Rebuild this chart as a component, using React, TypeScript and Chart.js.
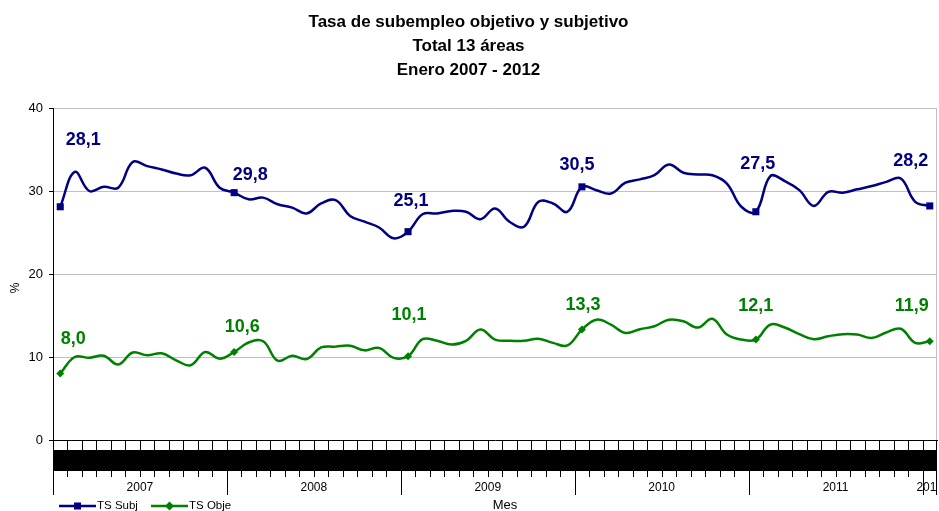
import React, { useEffect, useRef } from 'react';
import { Chart, registerables } from 'chart.js';

Chart.register(...registerables);

const FONT = '"Liberation Sans", Arial, Helvetica, sans-serif';

const titleLines = ['Tasa de subempleo objetivo y subjetivo', 'Total 13 áreas', 'Enero 2007 - 2012'];
const monthNames = ['ene', 'feb', 'mar', 'abr', 'may', 'jun', 'jul', 'ago', 'sep', 'oct', 'nov', 'dic'];
const years = ['2007', '2008', '2009', '2010', '2011', '2012'];
const seriesNames = ['TS Subj', 'TS Obje'];
const axisTitleX = 'Mes';
const axisTitleY = '%';

const categories: string[] = [];
years.forEach((y, yi) => {
  const n = yi === years.length - 1 ? 1 : 12;
  for (let m = 0; m < n; m++) categories.push(monthNames[m] + '-' + y.slice(2));
});

const tsSubj = [
  28.1, 32.3, 30.0, 30.5, 30.4, 33.5, 33.0, 32.6, 32.1, 31.9, 32.8, 30.4,
  29.8, 29.0, 29.2, 28.4, 28.0, 27.3, 28.5, 28.9, 27.0, 26.3, 25.6, 24.3,
  25.1, 27.2, 27.3, 27.6, 27.5, 26.6, 27.9, 26.3, 25.7, 28.7, 28.5, 27.5,
  30.5, 30.1, 29.7, 31.0, 31.4, 31.9, 33.2, 32.2, 32.0, 31.9, 30.9, 28.1,
  27.5, 31.8, 31.2, 30.1, 28.2, 29.9, 29.8, 30.2, 30.6, 31.1, 31.5, 28.7,
  28.2,
];
const tsObje = [
  8.0, 10.0, 9.9, 10.15, 9.1, 10.55, 10.2, 10.45, 9.6, 9.0, 10.6, 9.8,
  10.6, 11.75, 11.9, 9.55, 10.15, 9.75, 11.15, 11.25, 11.35, 10.8, 11.1, 9.9,
  10.1, 12.15, 11.95, 11.5, 11.95, 13.3, 12.1, 11.95, 11.95, 12.2, 11.7, 11.4,
  13.3, 14.5, 13.9, 12.9, 13.35, 13.7, 14.5, 14.3, 13.55, 14.6, 12.7, 12.1,
  12.1, 13.9, 13.55, 12.75, 12.15, 12.5, 12.75, 12.7, 12.3, 12.95, 13.4, 11.7,
  11.9,
];
const yMin = 0;
const yMax = 40;
const yStep = 10;

const COLORS = ['#000080', '#008000'];
const labelOffsets = [
  [[23, -67], [16, -18], [3, -31], [-5, -22], [2, -48], [-19, -45]],
  [[13, -35], [8, -25], [1, -41], [1, -25], [0, -34], [-18, -35]],
];

const fmt = (v: number) => v.toFixed(1).replace('.', ',');

const labelsPlugin = {
  id: 'janLabels',
  afterDatasetsDraw(chart: any) {
    const ctx = chart.ctx;
    ctx.save();
    ctx.font = `bold 18px ${FONT}`;
    ctx.textAlign = 'center';
    ctx.textBaseline = 'middle';
    chart.data.datasets.forEach((ds: any, di: number) => {
      const meta = chart.getDatasetMeta(di);
      ctx.fillStyle = COLORS[di];
      for (let i = 0; i < ds.data.length; i += 12) {
        const pt = meta.data[i];
        const off = labelOffsets[di][i / 12] || [0, -20];
        ctx.fillText(fmt(ds.data[i]), pt.x + off[0], pt.y + off[1]);
      }
    });
    ctx.restore();
  },
};

const decorPlugin = {
  id: 'decor',
  afterDraw(chart: any) {
    const ctx = chart.ctx;
    const a = chart.chartArea;
    const n = categories.length;
    const step = (a.right - a.left) / n;
    ctx.save();
    // right plot border
    ctx.strokeStyle = '#c0c0c0';
    ctx.lineWidth = 1;
    ctx.beginPath();
    ctx.moveTo(a.right - 0.5, a.top);
    ctx.lineTo(a.right - 0.5, a.bottom);
    ctx.stroke();
    // month band (illegible month labels)
    ctx.save();
    ctx.beginPath();
    ctx.rect(a.left, a.bottom + 10, a.right - a.left, 21);
    ctx.clip();
    ctx.fillStyle = '#000';
    ctx.fillRect(a.left, a.bottom + 10, a.right - a.left, 21);
    ctx.font = `bold 13px ${FONT}`;
    ctx.textAlign = 'center';
    ctx.textBaseline = 'middle';
    categories.forEach((c, i) => {
      ctx.fillText(c.split('-')[0], a.left + step * (i + 0.5), a.bottom + 20.5);
    });
    ctx.restore();
    // ticks and year separators
    ctx.strokeStyle = '#000';
    ctx.lineWidth = 1;
    for (let k = 0; k <= n; k++) {
      const x = Math.round(a.left + step * k) + (k === n ? -0.5 : 0.5);
      const isYear = k % 12 === 0 || k === n;
      ctx.beginPath();
      ctx.moveTo(x, a.bottom);
      ctx.lineTo(x, a.bottom + (isYear ? 55 : 37));
      ctx.stroke();
    }
    // year labels
    ctx.save();
    ctx.beginPath();
    ctx.rect(a.left, a.bottom, a.right - a.left, 80);
    ctx.clip();
    ctx.font = `12px ${FONT}`;
    ctx.fillStyle = '#000';
    ctx.textAlign = 'center';
    ctx.textBaseline = 'middle';
    years.forEach((y, yi) => {
      const s = yi * 12;
      const e = Math.min(s + 12, n);
      ctx.fillText(y, a.left + step * (s + e) / 2, a.bottom + 47.5);
    });
    ctx.restore();
    // axis titles
    ctx.fillStyle = '#000';
    ctx.font = `13px ${FONT}`;
    ctx.textAlign = 'center';
    ctx.textBaseline = 'middle';
    ctx.fillText(axisTitleX, (a.left + a.right) / 2 + 10, a.bottom + 65);
    ctx.save();
    ctx.translate(16, (a.top + a.bottom) / 2 + 14);
    ctx.rotate(-Math.PI / 2);
    ctx.font = `12px ${FONT}`;
    ctx.fillText(axisTitleY, 0, 0);
    ctx.restore();
    // legend
    const ly = a.bottom + 66;
    const items = [
      { x: 59, style: 'rect' },
      { x: 151, style: 'diamond' },
    ];
    items.forEach((it, i) => {
      ctx.strokeStyle = COLORS[i];
      ctx.fillStyle = COLORS[i];
      ctx.lineWidth = 2.5;
      ctx.beginPath();
      ctx.moveTo(it.x, ly);
      ctx.lineTo(it.x + 37, ly);
      ctx.stroke();
      const cx = it.x + 18.5;
      if (it.style === 'rect') {
        ctx.fillRect(cx - 3.5, ly - 3.5, 7, 7);
      } else {
        ctx.beginPath();
        ctx.moveTo(cx, ly - 4.5);
        ctx.lineTo(cx + 4.5, ly);
        ctx.lineTo(cx, ly + 4.5);
        ctx.lineTo(cx - 4.5, ly);
        ctx.closePath();
        ctx.fill();
      }
      ctx.fillStyle = '#000';
      ctx.font = `11.5px ${FONT}`;
      ctx.textAlign = 'left';
      ctx.fillText(seriesNames[i], it.x + 38, ly);
    });
    ctx.restore();
  },
};

export default function App() {
  const ref = useRef<HTMLCanvasElement | null>(null);
  useEffect(() => {
    document.body.style.margin = '0';
    const canvas = ref.current;
    if (!canvas) return;
    const janRadius = (r: number) => (c: any) => (c.dataIndex % 12 === 0 ? r : 0);
    const chart = new Chart(canvas, {
      type: 'line',
      data: {
        labels: categories,
        datasets: [
          {
            label: seriesNames[0],
            data: tsSubj,
            borderColor: COLORS[0],
            backgroundColor: COLORS[0],
            borderWidth: 2.5,
            tension: 0.4,
            pointStyle: 'rect',
            pointRadius: janRadius(5),
            pointHoverRadius: 0,
            pointBorderWidth: 0,
            pointBackgroundColor: COLORS[0],
            fill: false,
          },
          {
            label: seriesNames[1],
            data: tsObje,
            borderColor: COLORS[1],
            backgroundColor: COLORS[1],
            borderWidth: 2.5,
            tension: 0.4,
            pointStyle: 'rectRot',
            pointRadius: janRadius(4),
            pointHoverRadius: 0,
            pointBorderWidth: 0,
            pointBackgroundColor: COLORS[1],
            fill: false,
          },
        ],
      },
      options: {
        responsive: false,
        animation: false,
        devicePixelRatio: 1,
        layout: { autoPadding: false, padding: { left: 0, right: 2, top: 0, bottom: 0 } },
        plugins: {
          legend: { display: false },
          tooltip: { enabled: false },
          title: {
            display: true,
            text: titleLines,
            color: '#000',
            font: { family: FONT, size: 17, weight: 'bold', lineHeight: 24 / 17 },
            padding: { top: 10, bottom: 26 },
          },
        },
        scales: {
          x: {
            type: 'category',
            offset: true,
            grid: { display: false },
            border: { display: true, color: '#000', width: 1 },
            ticks: { display: false },
            afterFit: (s: any) => {
              s.height = 71;
            },
          },
          y: {
            min: yMin,
            max: yMax,
            ticks: {
              stepSize: yStep,
              color: '#000',
              padding: 6,
              font: { family: FONT, size: 13 },
            },
            grid: {
              color: (c: any) => (c.tick && c.tick.value === 0 ? 'rgba(0,0,0,0)' : '#c0c0c0'),
              tickColor: '#000',
              tickLength: 4,
              lineWidth: 1,
            },
            border: { display: true, color: '#000', width: 1 },
            afterFit: (s: any) => {
              s.width = 53;
            },
          },
        },
      },
      plugins: [decorPlugin, labelsPlugin],
    } as any);
    return () => chart.destroy();
  }, []);
  return (
    <div style={{ width: 939, height: 511 }}>
      <canvas ref={ref} width={939} height={511} style={{ display: 'block' }} />
    </div>
  );
}
